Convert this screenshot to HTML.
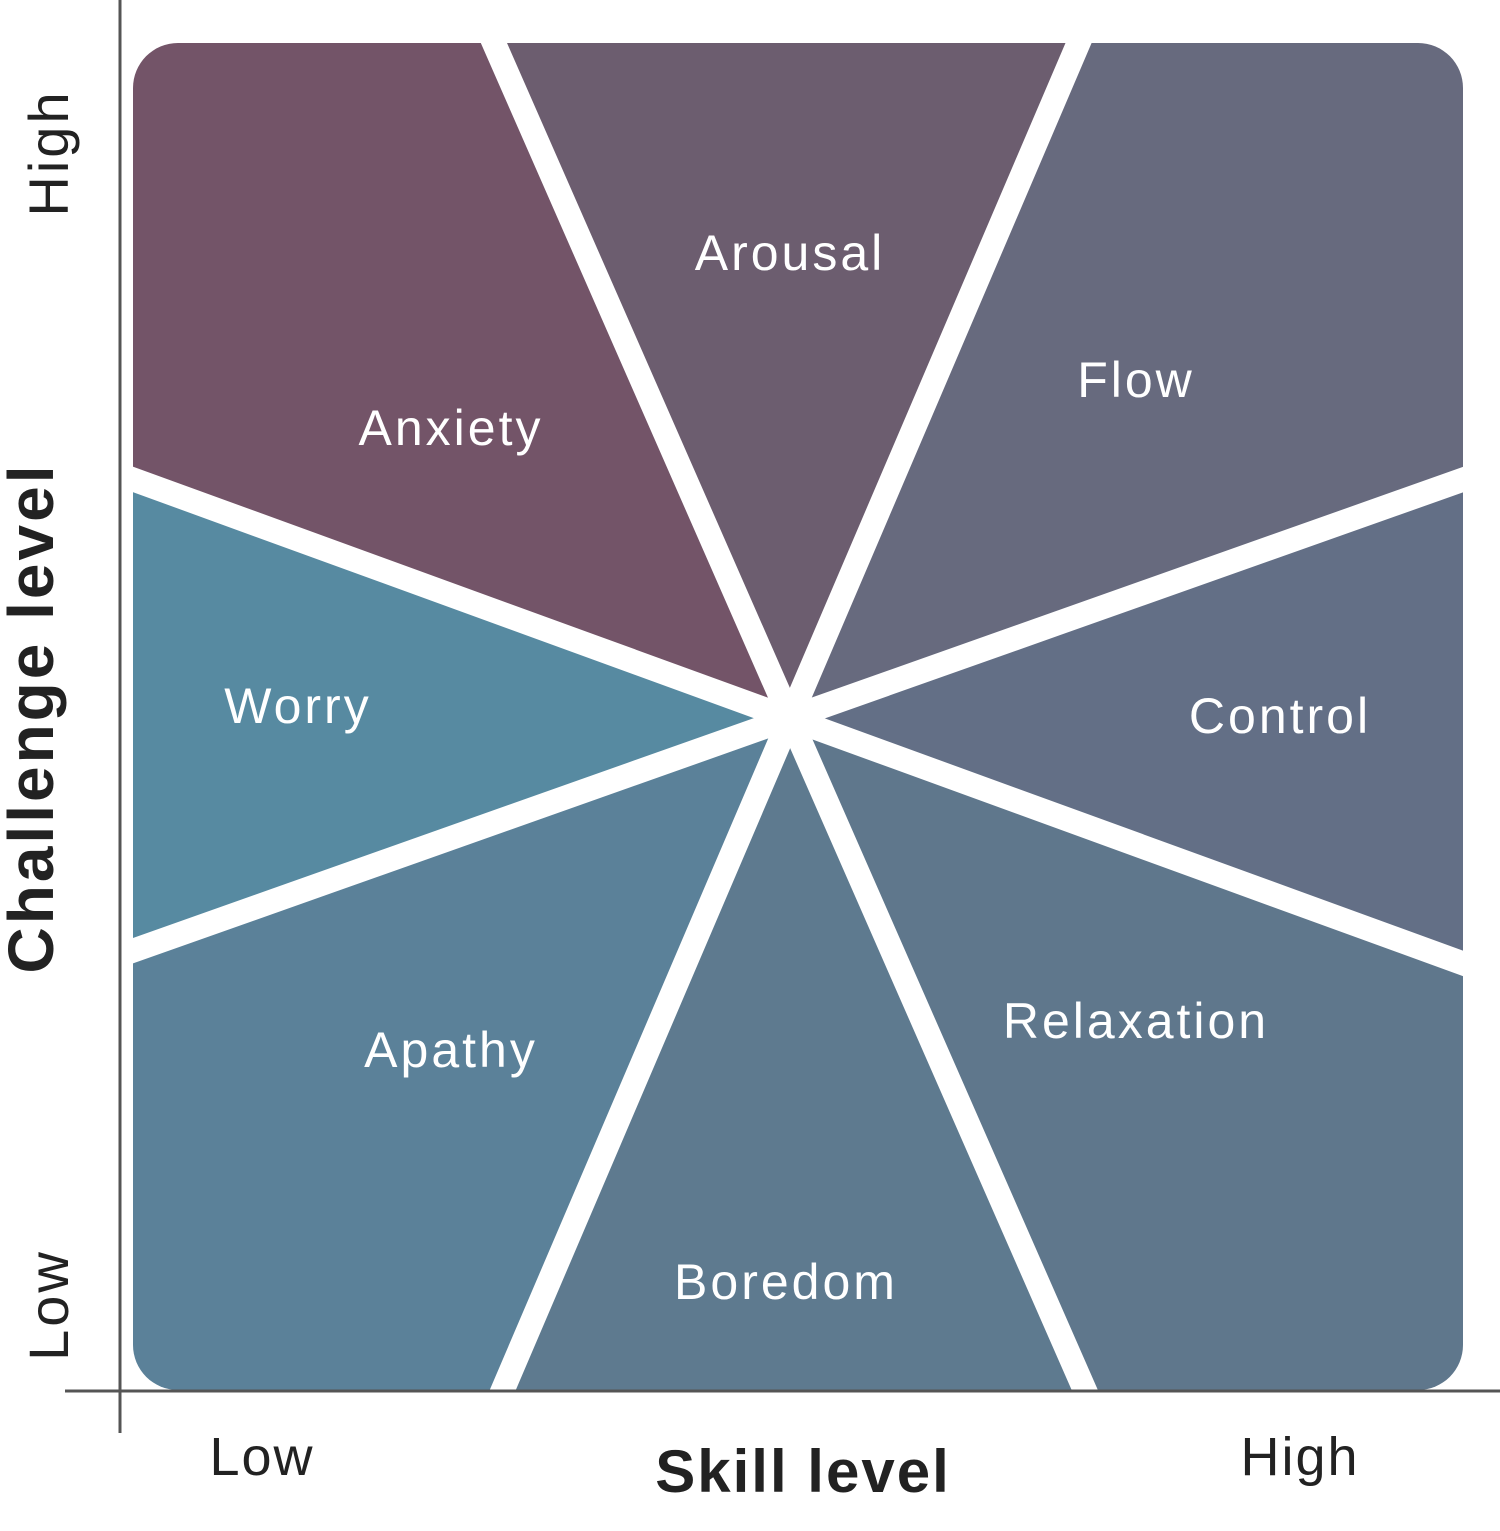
<!DOCTYPE html>
<html><head><meta charset="utf-8"><style>
html,body{margin:0;padding:0;background:#fff;}
svg{display:block;}
text{font-family:"Liberation Sans",sans-serif;}
</style></head><body>
<svg width="1500" height="1531" viewBox="0 0 1500 1531" xmlns="http://www.w3.org/2000/svg">
<defs><clipPath id="c"><rect x="133" y="43" width="1330" height="1347" rx="45" ry="45"/></clipPath></defs>
<g clip-path="url(#c)">
<polygon fill="#735468" points="790,718 22,439 0,0 0,-60 454,-60 454,-48"/>
<polygon fill="#6c5d6f" points="790,718 454,-48 454,-60 1120,-60 1120,-54"/>
<polygon fill="#676a7e" points="790,718 1120,-54 1120,-60 1600,-60 1600,446 1558,446"/>
<polygon fill="#636f86" points="790,718 1558,446 1600,446 1600,998 1558,998"/>
<polygon fill="#5f778c" points="790,718 1558,998 1600,998 1600,1500 1126,1500 1126,1484"/>
<polygon fill="#5e7a8f" points="790,718 1126,1484 1126,1500 460,1500 460,1490"/>
<polygon fill="#5b8199" points="790,718 460,1490 460,1500 0,1500 0,990 22,990"/>
<polygon fill="#578aa1" points="790,718 22,990 0,990 0,439 22,439"/>
</g>
<g stroke="#fff" stroke-width="24" stroke-linecap="round">
<line x1="454" y1="-48" x2="1126" y2="1484"/>
<line x1="1120" y1="-54" x2="460" y2="1490"/>
<line x1="22" y1="439" x2="1558" y2="998"/>
<line x1="22" y1="990" x2="1558" y2="446"/>
</g>
<line x1="120" y1="0" x2="120" y2="1433" stroke="#555" stroke-width="3"/>
<line x1="65" y1="1391" x2="1500" y2="1391" stroke="#555" stroke-width="3"/>
<g fill="#fff" font-size="50" text-anchor="middle" letter-spacing="3">
<text x="790" y="270">Arousal</text>
<text x="451" y="445">Anxiety</text>
<text x="1136" y="397">Flow</text>
<text x="298" y="723">Worry</text>
<text x="1280" y="733">Control</text>
<text x="451" y="1067">Apathy</text>
<text x="1136" y="1038">Relaxation</text>
<text x="786" y="1299">Boredom</text>
</g>
<g fill="#222" text-anchor="middle">
<text x="262" y="1475" font-size="54" letter-spacing="2">Low</text>
<text x="1300" y="1475" font-size="54" letter-spacing="2">High</text>
<text x="803" y="1492" font-size="60" font-weight="bold" letter-spacing="2">Skill level</text>
<text transform="translate(68,153) rotate(-90)" font-size="56" letter-spacing="3">High</text>
<text transform="translate(68,1305) rotate(-90)" font-size="56" letter-spacing="3">Low</text>
<text transform="translate(53,718) rotate(-90)" font-size="64" font-weight="bold" letter-spacing="3">Challenge level</text>
</g>
</svg>
</body></html>
